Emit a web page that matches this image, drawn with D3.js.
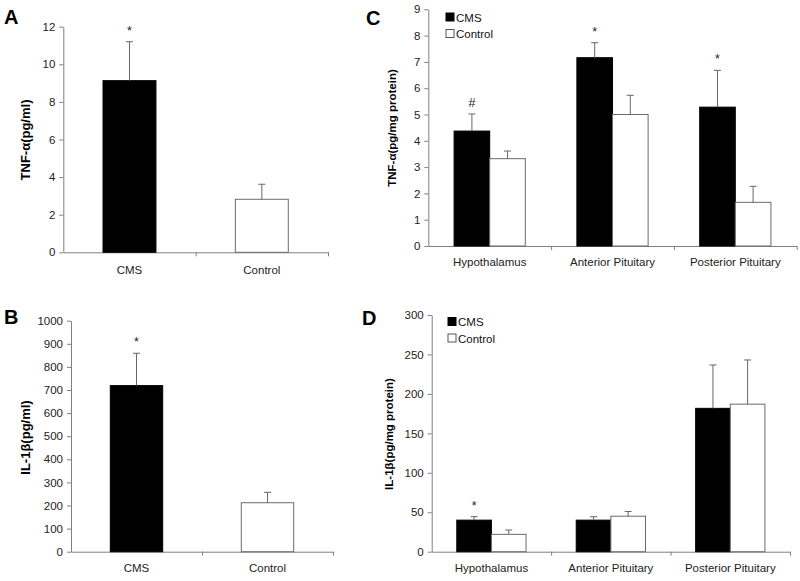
<!DOCTYPE html>
<html>
<head>
<meta charset="utf-8">
<script src="https://cdn.jsdelivr.net/npm/d3@7"></script>
<style>
  body { margin: 0; background: #fff; }
  svg { font-family: "Liberation Sans", Arial, sans-serif; }
  .axis path, .axis line { stroke: #808080; }
  .axis text { fill: #222; font-size: 11.5px; }
</style>
</head>
<body>
<svg id="fig" width="800" height="581"></svg>
<script>
// serum (panels A, B)
const groups = ["CMS", "Control"]
const groupFills = ["#000", "#fff"]
const tnfSerum = [9.13, 2.82]
const tnfSerumErr = [2.07, 0.80]
const tnfSerumMarks = ["*", ""]
const il1Serum = [719, 212]
const il1SerumErr = [140, 45]
const il1SerumMarks = ["*", ""]

// tissue (panels C, D)
const regions = ["Hypothalamus", "Anterior Pituitary", "Posterior Pituitary"]
const tnfCMS = [4.37, 7.16, 5.28]
const tnfCMSErr = [0.65, 0.57, 1.40]
const tnfControl = [3.32, 5.00, 1.66]
const tnfControlErr = [0.29, 0.73, 0.61]
const tnfMarks = ["#", "*", "*"]
const il1CMS = [40, 40, 181.7]
const il1CMSErr = [4.4, 4.3, 55]
const il1Control = [22, 45, 187]
const il1ControlErr = [5.5, 6, 56]
const il1Marks = ["*", "", ""]

const yTicksA = d3.range(0, 13, 2)
const yTicksB = d3.range(0, 1001, 100)
const yTicksC = d3.range(0, 10, 1)
const yTicksD = d3.range(0, 301, 50)

svg = d3.select("#fig")

function strokeOf(v) { return v === "#000" ? "#000" : "#6a6a6a" }

function panel(cfg) {
    const g = svg.append("g")
    const y = d3.scaleLinear().domain([0, cfg.ymax]).range([cfg.bottom, cfg.top])
    const x0 = d3.scaleBand().domain(cfg.cats).range([cfg.left, cfg.right])
    const bw = x0.bandwidth()
    const n = cfg.series.length
    const gw = bw * cfg.fill
    const x1 = d3.scaleBand().domain(d3.range(n)).range([0, gw])

    // x axis, ticks only at category boundaries
    const xb = d3.scaleLinear().domain([0, cfg.cats.length]).range([cfg.left, cfg.right])
    g.append("g").attr("class", "axis")
        .attr("transform", `translate(0,${cfg.bottom})`)
        .call(d3.axisBottom(xb).tickValues(d3.range(1, cfg.cats.length + 1)).tickFormat("").tickSize(4).tickSizeOuter(0))
    g.append("g").attr("class", "axis")
        .attr("transform", `translate(0,${cfg.bottom})`)
        .call(d3.axisBottom(x0).tickSize(0).tickPadding(cfg.labPad))
        .call(a => a.select(".domain").remove())
        .selectAll("text").style("font-size", "11.5px")

    g.append("g").attr("class", "axis")
        .attr("transform", `translate(${cfg.left},0)`)
        .call(d3.axisLeft(y).tickValues(cfg.yticks).tickFormat(d3.format("d")).tickSize(4).tickSizeOuter(0).tickPadding(4))

    cfg.series.forEach((s, si) => {
        cfg.cats.forEach((c, i) => {
            const bx = x0(c) + (bw - gw) / 2 + x1(si)
            const w = x1.bandwidth()
            const cx = bx + w / 2
            const f = Array.isArray(s.fill) ? s.fill[i] : s.fill
            g.append("rect")
                .attr("x", bx).attr("y", y(s.values[i]))
                .attr("width", w).attr("height", cfg.bottom - y(s.values[i]))
                .attr("fill", f).attr("stroke", strokeOf(f)).attr("stroke-width", 1)
            const top = y(s.values[i] + s.err[i])
            g.append("line").attr("x1", cx).attr("x2", cx)
                .attr("y1", y(s.values[i])).attr("y2", top)
                .attr("stroke", "#666")
            g.append("line").attr("x1", cx - 3.5).attr("x2", cx + 3.5)
                .attr("y1", top).attr("y2", top)
                .attr("stroke", "#666")
            if (s.marks && s.marks[i]) {
                g.append("text").attr("x", cx).attr("y", top - 7)
                    .attr("text-anchor", "middle").style("font-size", "12.5px").attr("fill", "#222")
                    .text(s.marks[i])
            }
        })
    })

    g.append("text")
        .attr("transform", `translate(${cfg.titleX},${cfg.titleY}) rotate(-90)`)
        .attr("text-anchor", "middle").attr("dy", "0.35em")
        .style("font-size", cfg.titleSize).style("font-weight", "bold")
        .text(cfg.title)

    g.append("text").attr("x", cfg.letterX).attr("y", cfg.letterY)
        .style("font-size", "20px").style("font-weight", "bold").text(cfg.letter)

    if (cfg.legend) {
        cfg.series.forEach((s, si) => {
            const ly = cfg.legendY + si * 16.5
            g.append("rect").attr("x", cfg.legendX).attr("y", ly)
                .attr("width", 8).attr("height", 8)
                .attr("fill", s.fill).attr("stroke", s.fill === "#000" ? "#000" : "#555")
            g.append("text").attr("x", cfg.legendX + 10).attr("y", ly + 8.5)
                .style("font-size", "11.5px").attr("fill", "#111").text(s.name)
        })
    }
}

panel({
    cats: groups, ymax: 12, yticks: yTicksA, left: 63.3, right: 328, top: 26.7, bottom: 252.3,
    fill: 0.4, labPad: 14,
    series: [{ name: "", values: tnfSerum, err: tnfSerumErr, marks: tnfSerumMarks, fill: groupFills }],
    title: "TNF-α(pg/ml)", titleX: 25.7, titleY: 140, titleSize: "13px",
    letter: "A", letterX: 4, letterY: 24
})

panel({
    cats: groups, ymax: 1000, yticks: yTicksB, left: 71, right: 333, top: 320.7, bottom: 551.7,
    fill: 0.4, labPad: 12,
    series: [{ name: "", values: il1Serum, err: il1SerumErr, marks: il1SerumMarks, fill: groupFills }],
    title: "IL-1β(pg/ml)", titleX: 25, titleY: 437.5, titleSize: "13px",
    letter: "B", letterX: 4, letterY: 324
})

panel({
    cats: regions, ymax: 9, yticks: yTicksC, left: 428.3, right: 796.7, top: 9.3, bottom: 246,
    fill: 0.58, labPad: 12,
    series: [
        { name: "CMS", values: tnfCMS, err: tnfCMSErr, marks: tnfMarks, fill: "#000" },
        { name: "Control", values: tnfControl, err: tnfControlErr, fill: "#fff" }
    ],
    title: "TNF-α(pg/mg protein)", titleX: 391.7, titleY: 128, titleSize: "11.5px",
    letter: "C", letterX: 366, letterY: 25,
    legend: true, legendX: 446, legendY: 13
})

panel({
    cats: regions, ymax: 300, yticks: yTicksD, left: 431.7, right: 790, top: 315, bottom: 551.7,
    fill: 0.58, labPad: 12,
    series: [
        { name: "CMS", values: il1CMS, err: il1CMSErr, marks: il1Marks, fill: "#000" },
        { name: "Control", values: il1Control, err: il1ControlErr, fill: "#fff" }
    ],
    title: "IL-1β(pg/mg protein)", titleX: 389, titleY: 434, titleSize: "11.5px",
    letter: "D", letterX: 362, letterY: 325,
    legend: true, legendX: 448, legendY: 317.5
})
</script>
</body>
</html>
